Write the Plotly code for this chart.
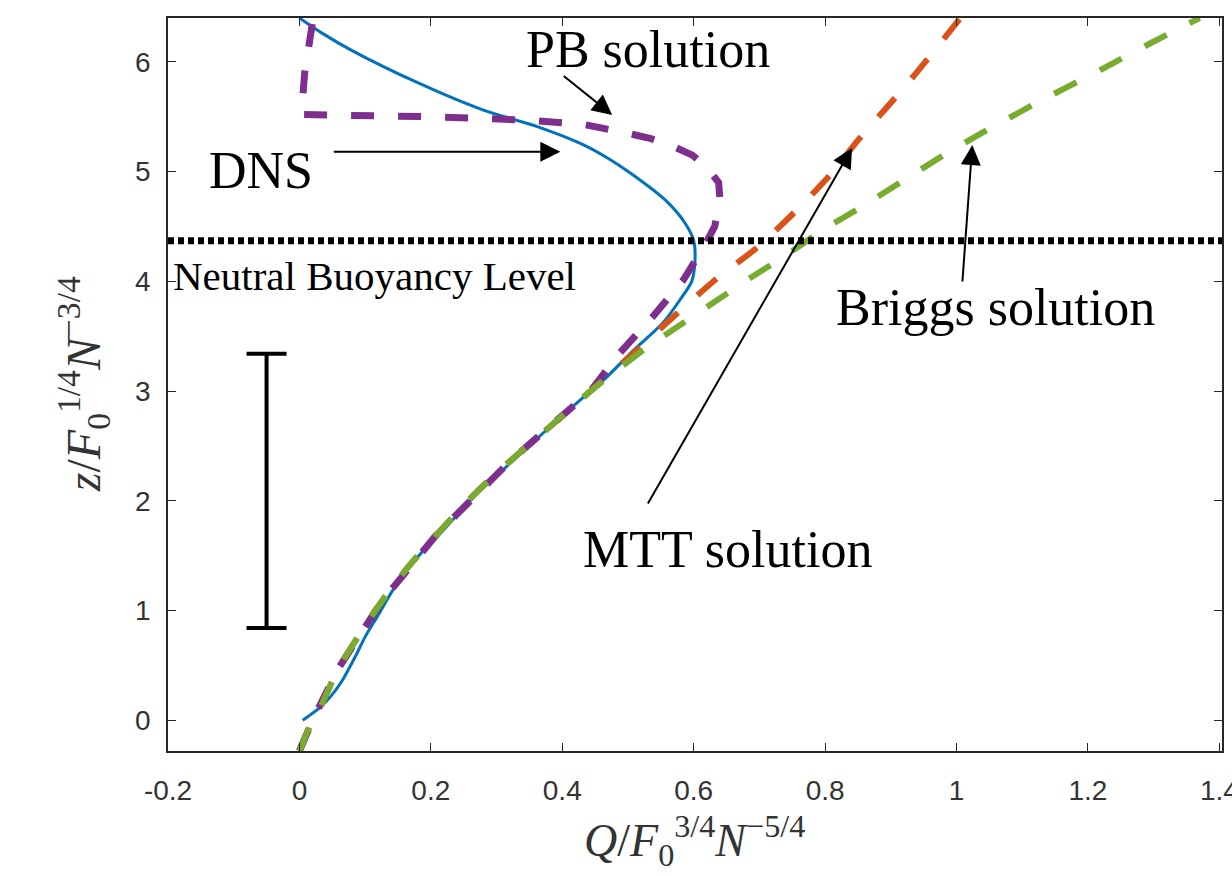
import plotly.graph_objects as go

# ---------------- data ----------------
dns_q = [0.005, 0.032, 0.048, 0.065, 0.085, 0.100, 0.118, 0.149, 0.189, 0.214, 0.271, 0.326, 0.386,
         0.443, 0.468, 0.508, 0.553, 0.579, 0.597, 0.602, 0.600, 0.587, 0.557, 0.503, 0.470, 0.430,
         0.362, 0.280, 0.180, 0.078, 0.035, 0.000]
dns_z = [0.00, 0.12, 0.22, 0.36, 0.58, 0.76, 0.94, 1.25, 1.55, 1.70, 2.07, 2.37, 2.70,
         3.00, 3.13, 3.37, 3.62, 3.83, 4.00, 4.19, 4.37, 4.53, 4.74, 4.99, 5.12, 5.25,
         5.41, 5.56, 5.81, 6.11, 6.26, 6.40]

pb_q = [0.000, 0.020, 0.058, 0.126, 0.210, 0.322, 0.443, 0.488, 0.538, 0.584, 0.615, 0.632,
        0.640, 0.638, 0.620, 0.598, 0.569, 0.535, 0.499, 0.432, 0.347, 0.200, 0.003, 0.008, 0.021]
pb_z = [-0.28, 0.00, 0.46, 1.09, 1.70, 2.37, 3.00, 3.35, 3.68, 4.01, 4.31, 4.50,
        4.74, 4.90, 5.04, 5.15, 5.23, 5.30, 5.35, 5.43, 5.47, 5.50, 5.52, 5.90, 6.40]

mtt_q = [0.000, 0.020, 0.032, 0.058, 0.090, 0.126, 0.166, 0.210, 0.268, 0.322, 0.386, 0.443,
         0.515, 0.575, 0.636, 0.697, 0.762, 0.812, 0.852, 0.925, 1.006]
mtt_z = [-0.28, 0.00, 0.12, 0.46, 0.77, 1.09, 1.40, 1.70, 2.07, 2.37, 2.70, 3.00,
         3.38, 3.71, 4.03, 4.31, 4.68, 5.00, 5.30, 5.80, 6.40]

briggs_q = [0.000, 0.020, 0.032, 0.058, 0.090, 0.126, 0.166, 0.210, 0.268, 0.322, 0.386, 0.443,
            0.529, 0.584, 0.686, 0.736, 0.797, 0.853, 0.914, 0.975, 1.038, 1.120, 1.220, 1.295, 1.370]
briggs_z = [-0.28, 0.00, 0.12, 0.46, 0.77, 1.09, 1.40, 1.70, 2.07, 2.37, 2.70, 3.00,
            3.40, 3.62, 4.03, 4.22, 4.47, 4.67, 4.90, 5.13, 5.35, 5.62, 5.93, 6.17, 6.40]

nbl_z = 4.37
nbl_q = [-0.2, 1.41]

errbar_q = -0.050
errbar_z_low = 0.84
errbar_z_high = 3.34

x_ticks = [-0.2, 0, 0.2, 0.4, 0.6, 0.8, 1, 1.2, 1.4]
x_ticktext = ["-0.2", "0", "0.2", "0.4", "0.6", "0.8", "1", "1.2", "1.4"]
y_ticks = [0, 1, 2, 3, 4, 5, 6]
y_ticktext = ["0", "1", "2", "3", "4", "5", "6"]

# labels: (text, q, z)
labels = [
    ("PB solution", 0.531, 6.11),
    ("DNS", -0.059, 5.01),
    ("Briggs solution", 1.059, 3.76),
    ("MTT solution", 0.652, 1.56),
]
nbl_label = ("Neutral Buoyancy Level", -0.196, 4.05)

# arrows: (head q, head z, tail dx px, tail dy px)
arrows = [
    (0.476, 5.517, -50, -40),
    (0.397, 5.180, -228, 0),
    (1.024, 5.243, -10, 138),
    (0.841, 5.216, -205, 357),
]

# ---------------- figure ----------------
BLUE = "#0072BD"
ORANGE = "#D95319"
PURPLE = "#7E2F8E"
GREEN = "#77AC30"

fig = go.Figure()

fig.add_trace(go.Scatter(x=dns_q, y=dns_z, mode="lines",
                         line=dict(color=BLUE, width=3, shape="spline", smoothing=0.8),
                         name="DNS"))
fig.add_trace(go.Scatter(x=pb_q, y=pb_z, mode="lines",
                         line=dict(color=PURPLE, width=7, dash="23px,24px"), name="PB"))
fig.add_trace(go.Scatter(x=mtt_q, y=mtt_z, mode="lines",
                         line=dict(color=ORANGE, width=6, dash="25px,26px",
                                   shape="spline", smoothing=0.6), name="MTT"))
fig.add_trace(go.Scatter(x=briggs_q, y=briggs_z, mode="lines",
                         line=dict(color=GREEN, width=6, dash="25px,26px",
                                   shape="spline", smoothing=0.6), name="Briggs"))
fig.add_trace(go.Scatter(x=nbl_q, y=[nbl_z, nbl_z], mode="lines",
                         line=dict(color="black", width=7, dash="6px,4px"), name="NBL"))

mid = (errbar_z_low + errbar_z_high) / 2
half = (errbar_z_high - errbar_z_low) / 2
fig.add_trace(go.Scatter(x=[errbar_q], y=[mid], mode="markers",
                         marker=dict(size=1, color="rgba(0,0,0,0)"),
                         error_y=dict(type="data", array=[half], symmetric=True,
                                      color="black", thickness=4, width=20),
                         name="range"))

serif = "Liberation Serif, Times New Roman, serif"
for text, q, z in labels:
    fig.add_annotation(x=q, y=z, xref="x", yref="y", text=text, showarrow=False,
                       font=dict(family=serif, size=52, color="black"),
                       xanchor="center", yanchor="middle")
fig.add_annotation(x=nbl_label[1], y=nbl_label[2], xref="x", yref="y", text=nbl_label[0],
                   showarrow=False, font=dict(family=serif, size=41, color="black"),
                   xanchor="left", yanchor="middle")

for hq, hz, dx, dy in arrows:
    fig.add_annotation(x=hq, y=hz, xref="x", yref="y", ax=dx, ay=dy, text="",
                       showarrow=True, arrowhead=2, arrowsize=2.0, arrowwidth=2,
                       arrowcolor="black", standoff=0)

# axis titles
fig.add_annotation(x=0.601, y=-0.122, xref="x", yref="paper",
                   text="<i>Q</i>/<i>F</i><sub>0</sub><sup>3/4</sup><i>N</i><sup>\u22125/4</sup>",
                   showarrow=False, font=dict(family=serif, size=46, color="#333333"),
                   xanchor="center", yanchor="middle")
fig.add_annotation(x=-0.080, y=0.50, xref="paper", yref="paper", textangle=-90,
                   text="<i>z</i>/<i>F</i><sub>0</sub><sup>1/4</sup><i>N</i><sup>\u22123/4</sup>",
                   showarrow=False, font=dict(family=serif, size=48, color="#333333"),
                   xanchor="center", yanchor="middle")

axis_common = dict(showline=True, linecolor="#262626", linewidth=1.5, mirror="ticks",
                   ticks="inside", ticklen=8, tickwidth=1.2, tickcolor="#262626",
                   showgrid=False, zeroline=False, ticklabeloverflow="allow",
                   automargin=False,
                   tickfont=dict(family="Liberation Sans, Arial, sans-serif", size=28,
                                 color="#333333"))

fig.update_xaxes(range=[-0.2, 1.404], tickvals=x_ticks, ticktext=x_ticktext,
                 ticklabelstandoff=14, **axis_common)
fig.update_yaxes(range=[-0.28, 6.4], tickvals=y_ticks, ticktext=y_ticktext,
                 ticklabelstandoff=10, **axis_common)

fig.update_layout(width=1232, height=876, showlegend=False,
                  margin=dict(l=168, r=10, t=18, b=125, autoexpand=False),
                  plot_bgcolor="white", paper_bgcolor="white")

fig.write_html("out.html")
